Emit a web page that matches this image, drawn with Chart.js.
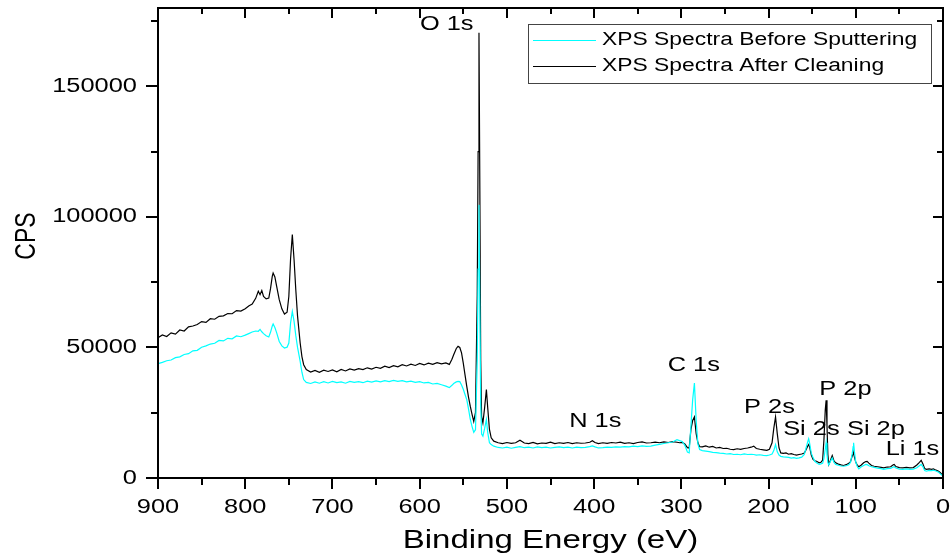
<!DOCTYPE html>
<html>
<head>
<meta charset="utf-8">
<title>XPS Survey Spectra</title>
<script src="https://cdn.jsdelivr.net/npm/chart.js@4.4.1/dist/chart.umd.min.js"></script>
<style>
    html, body { margin: 0; padding: 0; background: #fff; }
    #chart { display: block; }
</style>
</head>
<body>
<canvas id="chart" width="952" height="560"></canvas>
<script>
// binding energy (eV), shared by both spectra
const bindingEnergy = [
    900, 895, 890, 885, 880, 875, 870, 865, 860, 855, 850, 845,
    840, 835, 830, 825, 820, 815, 810, 805, 800, 796, 792, 788,
    785, 783, 781, 779, 776, 773, 771, 769, 768, 766, 764, 761,
    758, 755, 752, 750, 748, 746, 744, 742, 740, 737, 735, 733,
    730, 725, 720, 715, 710, 705, 700, 695, 690, 685, 680, 675,
    670, 665, 660, 655, 650, 645, 640, 635, 630, 625, 620, 615,
    610, 605, 600, 595, 590, 585, 580, 575, 570, 566, 563, 561,
    558, 556, 554, 552, 550, 548, 546, 544, 542, 540, 538, 536,
    534, 533, 532, 531, 530, 529, 527.5, 525.5, 523.5, 522, 520, 518,
    515, 510, 505, 500, 495, 490, 485, 480, 475, 470, 465, 460,
    455, 450, 445, 440, 435, 430, 425, 420, 415, 410, 405, 402,
    399, 395, 390, 385, 380, 375, 370, 365, 360, 355, 350, 345,
    340, 335, 330, 325, 320, 315, 310, 305, 302, 299, 296, 293,
    291, 289, 287, 285, 283, 281, 279, 276, 272, 268, 264, 260,
    256, 252, 248, 244, 240, 236, 232, 228, 224, 220, 217, 214,
    210, 206, 202, 199, 196, 194, 192, 190, 188, 186, 183, 180,
    177, 174, 171, 168, 165, 162, 159, 157, 155, 154, 153, 151,
    149, 147, 145, 142, 140, 138, 136.5, 135, 134, 133, 132, 131,
    129, 127, 125, 123, 120, 117, 114, 111, 108, 106, 104, 103,
    102.5, 101.5, 100, 98, 96.5, 94, 91, 88.5, 87, 85, 82, 79,
    75, 71, 68, 64, 60, 57, 56, 54, 50, 46, 42, 38,
    34, 30, 27, 25, 23, 21, 19, 16, 13, 11, 8, 5,
    3, 1, 0
];

// counts per second, as-received surface
const cpsBeforeSputtering = [
    43800, 44300, 44900, 45200, 46100, 46400, 47300, 47600, 48700, 48900, 50100, 50600,
    51300, 51600, 52700, 52500, 53500, 53300, 54400, 54100, 54700, 55300, 55900, 56300,
    56200, 56900, 56000, 55300, 54500, 54000, 55800, 58200, 59000, 57600, 55700, 52300,
    50600, 49800, 50100, 51700, 59400, 63800, 60000, 54500, 50000, 44700, 40500, 37700,
    36600, 36200, 36800, 36300, 36900, 36400, 37000, 36500, 36800, 36300, 37000, 36600,
    36900, 36500, 37100, 36700, 37200, 36800, 37300, 36900, 37400, 37000, 37300, 36800,
    37100, 36600, 36900, 36400, 36600, 36000, 36200, 35700, 35200, 34600, 35500, 36200,
    36800, 37000, 36900, 35600, 34000, 32000, 30000, 26500, 22500, 19800, 17500, 18500,
    45000, 80000, 104600, 65000, 28000, 16800, 16000, 19000, 22400, 17500, 13500, 12800,
    12200, 11700, 11500, 11800, 11400, 11700, 12000, 11600, 11800, 11500, 11900, 11600,
    11800, 11500, 11700, 11900, 11600, 11800, 11500, 11800, 11600, 11700, 12000, 12300,
    11900, 11500, 11600, 11800, 11700, 11900, 11800, 12000, 11900, 12200, 12000, 12300,
    12100, 12200, 12600, 12900, 13200, 13500, 13800, 14700, 14300, 14000, 12500, 9900,
    9600, 20000, 30000, 36400, 22000, 13000, 10900, 10500, 10300, 10100, 9800, 9700,
    9500, 9400, 9200, 9300, 9000, 9100, 8900, 9200, 9000, 9100, 9000, 8800,
    8900, 8700, 8600, 8800, 9200, 10500, 12800, 10000, 8800, 8300, 8100, 8000,
    7900, 7600, 7800, 7500, 7700, 8000, 9000, 11500, 14000, 15000, 13500, 9500,
    7800, 6400, 5800, 5200, 5400, 5600, 7500, 11000, 13500, 9000, 6000, 5000,
    6400, 7700, 6000, 5200, 4900, 4600, 4500, 4700, 5100, 6000, 9500, 12000,
    13500, 10000, 6000, 4200, 3500, 4200, 4800, 5200, 5100, 4700, 4300, 4100,
    3800, 3600, 3300, 3600, 3700, 4200, 4300, 3800, 3400, 3300, 3500, 3300,
    3400, 3900, 4700, 5200, 4300, 2900, 2600, 2900, 2800, 3000, 2700, 2200,
    1600, 1000, 700
];

// counts per second, after cleaning
const cpsAfterCleaning = [
    53700, 54800, 54200, 55600, 55100, 56700, 56300, 57900, 58200, 58800, 59900, 59600,
    61000, 60800, 61900, 62100, 63000, 62900, 64100, 63900, 64800, 65900, 66600, 68800,
    71500, 70200, 71800, 69500, 68600, 68900, 72500, 77200, 78500, 77000, 73500, 68300,
    64800, 62800, 63500, 69500, 84000, 93200, 83600, 72000, 62000, 51700, 46500, 43400,
    41500, 40600, 41200, 40500, 41300, 40800, 41400, 40700, 41600, 41000, 41800, 41300,
    41900, 41500, 42200, 41700, 42400, 42000, 42800, 42300, 43000, 42600, 43400, 42900,
    43600, 43100, 43900, 43300, 44000, 43500, 44200, 43700, 44100, 43500, 45500, 47200,
    49600, 50400, 50000, 47900, 44000, 39500, 35100, 31000, 27500, 24500, 21700, 25000,
    70000, 125000, 170500, 110000, 45000, 23500, 21100, 27000, 33900, 27000, 18600, 15400,
    14100, 13500, 13200, 13600, 13300, 13500, 14500, 13400, 13200, 13600, 13100, 13400,
    13300, 13700, 13200, 13500, 13300, 13600, 13200, 13500, 13300, 13400, 13700, 14300,
    13600, 13200, 13500, 13300, 13600, 13400, 13700, 13300, 13500, 13200, 13600, 13800,
    13400, 13500, 13700, 13500, 13800, 13600, 13900, 13700, 13500, 13600, 13000, 11600,
    11500, 18600, 22000, 23400, 17000, 13500, 12000, 11900, 12300, 11800, 12100, 11500,
    11700, 11300, 11400, 11000, 10900, 11200, 11000, 11300, 11500, 11800, 12200, 11300,
    11000, 10800, 10600, 11000, 13500, 19000, 23400, 17000, 11500, 9600, 9400, 9600,
    9100, 9300, 9000, 8800, 9000, 9200, 9600, 10800, 12300, 12800, 12000, 8800,
    7100, 6600, 6400, 5800, 6000, 6800, 14700, 26000, 29800, 20000, 9000, 5200,
    6800, 8600, 6500, 5800, 5300, 5000, 4800, 5100, 5600, 6300, 8500, 9200,
    9400, 8000, 6000, 4800, 4300, 4900, 5800, 6300, 6400, 5700, 4800, 4500,
    4300, 4100, 3900, 4200, 4300, 5100, 5200, 4400, 4000, 3900, 4100, 3900,
    4000, 5000, 6000, 6800, 5400, 3600, 3300, 3500, 3300, 3500, 3000, 2600,
    2000, 1300, 900
];

const seriesNames = ['XPS Spectra Before Sputtering', 'XPS Spectra After Cleaning'];
const seriesColors = ['#00ffff', '#000000'];

const xTickLabels = [900, 800, 700, 600, 500, 400, 300, 200, 100, 0];
const yTickLabels = [0, 50000, 100000, 150000];

// peak assignments, placed at (energy, cps)
const peakLabels = [
    { text: 'O 1s',  energy: 569,   cps: 173500 },
    { text: 'C 1s',  energy: 285.7, cps: 43000 },
    { text: 'N 1s',  energy: 398.7, cps: 21600 },
    { text: 'P 2s',  energy: 199,   cps: 27000 },
    { text: 'Si 2s', energy: 150.9, cps: 18700 },
    { text: 'P 2p',  energy: 111.9, cps: 33900 },
    { text: 'Si 2p', energy: 76.9,  cps: 18700 },
    { text: 'Li 1s', energy: 35,    cps: 10900 }
];

const FONT = '"Liberation Sans", Arial, sans-serif';
const STRETCH = 1.27;

function toPoints(values) {
    return bindingEnergy.map((e, i) => ({ x: e, y: values[i] }));
}

// wide Arial-like text
function wideText(ctx, text, x, y, size, align) {
    ctx.save();
    ctx.translate(x, y);
    ctx.scale(STRETCH, 1);
    ctx.font = size + 'px ' + FONT;
    ctx.textAlign = align;
    ctx.textBaseline = 'middle';
    ctx.fillStyle = '#000';
    ctx.fillText(text, 0, 0);
    ctx.restore();
}

const framePlugin = {
    id: 'frame',
    afterDatasetsDraw(chart) {
        const ctx = chart.ctx;
        const area = chart.chartArea;
        const xs = chart.scales.x;
        const ys = chart.scales.y;

        ctx.save();
        ctx.strokeStyle = '#000';
        ctx.lineWidth = 2;
        ctx.strokeRect(area.left, area.top, area.right - area.left, area.bottom - area.top);

        ctx.beginPath();
        // energy axis: major every 100, minor every 50
        for (let e = 0; e <= 900; e += 50) {
            const px = Math.round(xs.getPixelForValue(e));
            const major = e % 100 === 0;
            ctx.moveTo(px, area.bottom);
            ctx.lineTo(px, area.bottom + (major ? 11 : 7));
            ctx.moveTo(px, area.top);
            ctx.lineTo(px, area.top + (major ? 10 : 6));
        }
        // counts axis: major every 50000, minor every 25000
        for (let c = 0; c <= 175000; c += 25000) {
            const py = Math.round(ys.getPixelForValue(c));
            const major = c % 50000 === 0;
            ctx.moveTo(area.left, py);
            ctx.lineTo(area.left - (major ? 12 : 7), py);
            ctx.moveTo(area.right, py);
            ctx.lineTo(area.right - (major ? 10 : 6), py);
        }
        ctx.stroke();
        ctx.restore();

        xTickLabels.forEach(v => {
            wideText(ctx, String(v), xs.getPixelForValue(v), 507, 20, 'center');
        });
        yTickLabels.forEach(v => {
            wideText(ctx, String(v), 137, ys.getPixelForValue(v), 20, 'right');
        });

        // axis titles
        wideText(ctx, 'Binding Energy (eV)', (area.left + area.right) / 2, 541, 26, 'center');
        ctx.save();
        ctx.translate(27, 236);
        ctx.scale(STRETCH, 1);
        ctx.rotate(-Math.PI / 2);
        ctx.font = '23px ' + FONT;
        ctx.textAlign = 'center';
        ctx.textBaseline = 'middle';
        ctx.fillStyle = '#000';
        ctx.fillText('CPS', 0, 0);
        ctx.restore();

        peakLabels.forEach(p => {
            wideText(ctx, p.text, xs.getPixelForValue(p.energy), ys.getPixelForValue(p.cps), 20, 'center');
        });

        // legend box
        ctx.save();
        ctx.fillStyle = '#fff';
        ctx.fillRect(528, 24, 403, 59);
        ctx.strokeStyle = '#444';
        ctx.lineWidth = 1;
        ctx.strokeRect(528.5, 24.5, 403, 59);
        const rows = [40.5, 66.5];
        chart.data.datasets.forEach((ds, i) => {
            ctx.strokeStyle = ds.borderColor;
            ctx.lineWidth = 1;
            ctx.beginPath();
            ctx.moveTo(533, rows[i]);
            ctx.lineTo(596, rows[i]);
            ctx.stroke();
        });
        ctx.restore();
        chart.data.datasets.forEach((ds, i) => {
            wideText(ctx, ds.label, 602, [40.5, 66.5][i], 18, 'left');
        });
    }
};

const ctx = document.getElementById('chart').getContext('2d');

new Chart(ctx, {
    type: 'line',
    data: {
        datasets: [
            {
                label: seriesNames[0],
                data: toPoints(cpsBeforeSputtering),
                borderColor: seriesColors[0],
                borderWidth: 1.2,
                pointRadius: 0,
                tension: 0
            },
            {
                label: seriesNames[1],
                data: toPoints(cpsAfterCleaning),
                borderColor: seriesColors[1],
                borderWidth: 1.2,
                pointRadius: 0,
                tension: 0
            }
        ]
    },
    options: {
        responsive: false,
        devicePixelRatio: 1,
        animation: false,
        layout: { padding: { left: 0, right: 9, top: 8, bottom: 0 } },
        plugins: {
            legend: { display: false },
            tooltip: { enabled: false }
        },
        scales: {
            x: {
                type: 'linear',
                min: 0,
                max: 900,
                reverse: true,
                grid: { display: false },
                border: { display: false },
                ticks: { display: false },
                afterFit: s => { s.height = 82; }
            },
            y: {
                type: 'linear',
                min: 0,
                max: 180000,
                grid: { display: false },
                border: { display: false },
                ticks: { display: false },
                afterFit: s => { s.width = 158; }
            }
        }
    },
    plugins: [framePlugin]
});
</script>
</body>
</html>
